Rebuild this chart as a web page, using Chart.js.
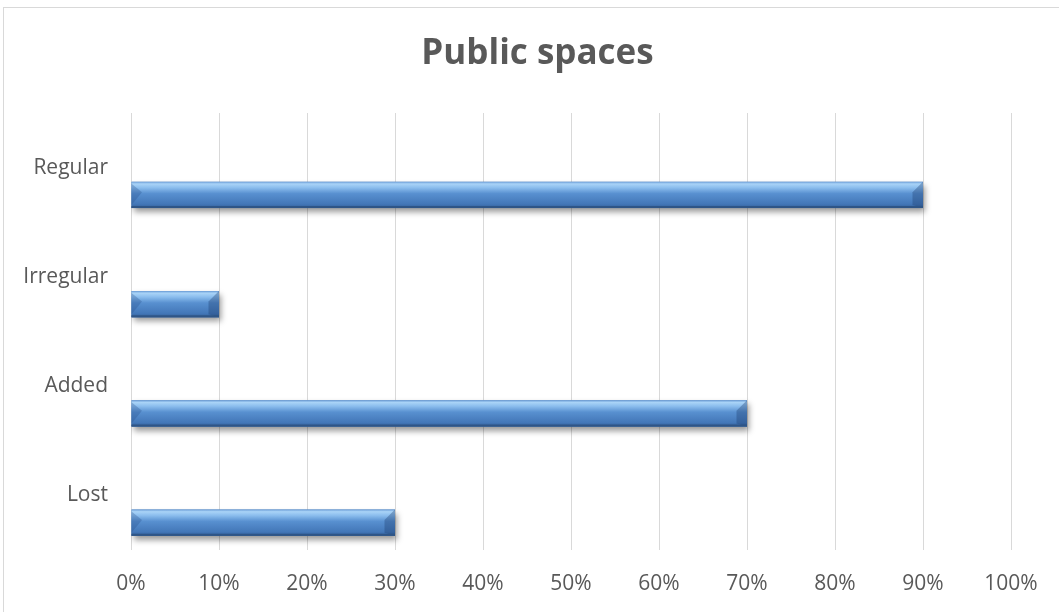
<!DOCTYPE html>
<html>
<head>
<meta charset="utf-8">
<script src="https://cdn.jsdelivr.net/npm/chart.js@4.4.1/dist/chart.umd.min.js"></script>
<style>
  html, body { margin: 0; padding: 0; background: #fff; overflow: hidden; }
  #frame { position: absolute; left: 3px; top: 7px; width: 1100px; height: 660px; border: 1px solid #d9d9d9; }
  #wrap { position: absolute; left: 0; top: 0; width: 1075px; height: 612px; }
</style>
</head>
<body>
<div id="frame"></div>
<div id="wrap"><canvas id="chart"></canvas></div>
<script>
// data
const categories = ['Regular', 'Irregular', 'Added', 'Lost'];
const shares = [90, 10, 70, 30];
const spacer = [null, null, null, null];
const xTicks = [0, 10, 20, 30, 40, 50, 60, 70, 80, 90, 100];

const textGrey = '#595959';
const gridGrey = '#d9d9d9';

// shadow + bevelled gradient on top of the bars chart.js lays out
const bevelBars = {
  id: 'bevelBars',
  beforeDatasetDraw(chart, args) {
    if (args.index !== 1) return;
    const ctx = chart.ctx;
    ctx.save();
    ctx.shadowColor = 'rgba(0,0,0,0.4)';
    ctx.shadowOffsetX = 2;
    ctx.shadowOffsetY = 4;
    ctx.shadowBlur = 6;
  },
  afterDatasetDraw(chart, args) {
    if (args.index !== 1) return;
    const ctx = chart.ctx;
    ctx.restore();
    args.meta.data.forEach(bar => {
      const p = bar.getProps(['x', 'y', 'base', 'height'], true);
      const left = Math.min(p.base, p.x), right = Math.max(p.base, p.x);
      const top = p.y - p.height / 2, bottom = p.y + p.height / 2;
      const h = bottom - top;
      const g = ctx.createLinearGradient(0, top, 0, bottom);
      g.addColorStop(0, '#6d9fd8');
      g.addColorStop(0.08, '#a9d3f7');
      g.addColorStop(0.22, '#8cbeee');
      g.addColorStop(0.45, '#5890d0');
      g.addColorStop(0.85, '#4377b8');
      g.addColorStop(1, '#335f98');
      ctx.save();
      ctx.fillStyle = g;
      ctx.fillRect(left, top, right - left, h);
      // end bevels
      const b = Math.min(h * 0.4, (right - left) / 2);
      ctx.fillStyle = 'rgba(40,80,140,0.30)';
      ctx.beginPath();
      ctx.moveTo(left, top + 2);
      ctx.lineTo(left + b, top + b);
      ctx.lineTo(left, bottom - 3);
      ctx.closePath();
      ctx.fill();
      ctx.fillStyle = 'rgba(30,60,110,0.35)';
      ctx.beginPath();
      ctx.moveTo(right, top);
      ctx.lineTo(right - b, top + b);
      ctx.lineTo(right - b, bottom - 3);
      ctx.lineTo(right, bottom);
      ctx.closePath();
      ctx.fill();
      ctx.fillStyle = '#2f5586';
      ctx.fillRect(left, bottom - 2, right - left, 2);
      ctx.restore();
    });
  }
};

new Chart(document.getElementById('chart'), {
  type: 'bar',
  data: {
    labels: categories,
    datasets: [
      { label: '', data: spacer, backgroundColor: 'rgba(0,0,0,0)' },
      { label: 'Public spaces', data: shares, backgroundColor: '#4f81bd' }
    ]
  },
  options: {
    indexAxis: 'y',
    responsive: true,
    maintainAspectRatio: false,
    animation: false,
    categoryPercentage: 1.0,
    barPercentage: 0.48,
    layout: { padding: 0 },
    plugins: {
      legend: { display: false },
      tooltip: { enabled: false },
      title: {
        display: true,
        text: 'Public spaces',
        color: textGrey,
        font: { family: 'Open Sans', size: 35, weight: 'bold' },
        padding: { top: 33, bottom: 38 }
      }
    },
    scales: {
      x: {
        min: 0,
        max: 100,
        afterBuildTicks: s => { s.ticks = xTicks.map(v => ({ value: v })); },
        afterFit: s => { s.height = 62; },
        grid: { color: gridGrey, lineWidth: 1, drawTicks: false },
        border: { display: false },
        ticks: {
          color: textGrey,
          padding: 21,
          font: { family: 'Open Sans', size: 21 },
          callback: v => v + '%'
        }
      },
      y: {
        afterFit: s => { s.width = 131; },
        grid: { display: false, drawTicks: false },
        border: { display: false },
        ticks: {
          color: textGrey,
          padding: 23,
          font: { family: 'Open Sans', size: 21 }
        }
      },
      // empty right-hand strip so the plot ends at 100% where the original does
      yRight: {
        type: 'category',
        position: 'right',
        afterFit: s => { s.width = 64; },
        grid: { display: false, drawTicks: false },
        border: { display: false },
        ticks: { display: false }
      }
    }
  },
  plugins: [bevelBars]
});
</script>
</body>
</html>
